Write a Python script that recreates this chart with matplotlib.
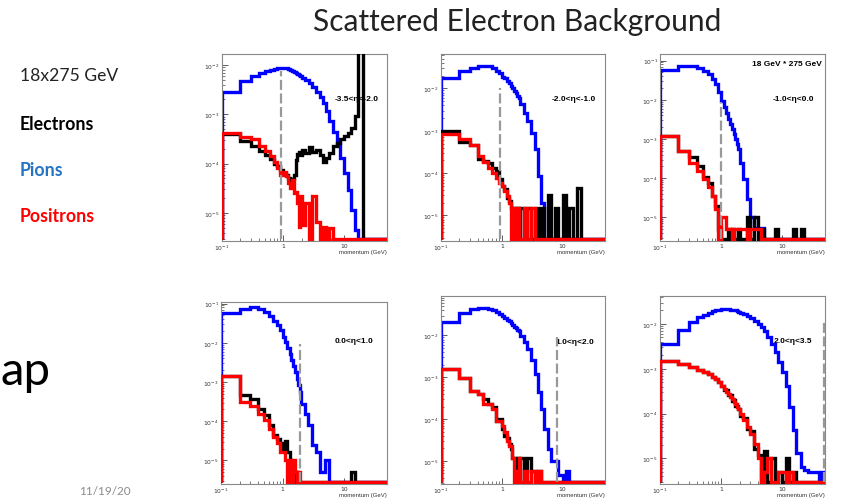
import numpy as np
import matplotlib
matplotlib.use("Agg")
import matplotlib.pyplot as plt
from matplotlib.ticker import LogLocator, FixedLocator, FixedFormatter, NullFormatter

# ---------------- data ----------------
# bin edges in momentum (GeV)
edges = [0.1, 0.2, 0.3, 0.4, 0.5, 0.6, 0.7, 0.8, 0.9, 1.0, 1.1, 1.2, 1.3, 1.4, 1.5, 1.6, 1.7, 1.8, 1.9, 2.0,
         2.3, 2.6, 3.0, 3.5, 4.0, 4.5, 5.0, 5.7, 6.5, 7.5, 8.5, 10, 11.5, 13, 15, 17, 20, 23, 26, 30, 35, 40, 45, 50]

eta_labels = ["-3.5<\u03b7<-2.0", "-2.0<\u03b7<-1.0", "-1.0<\u03b7<0.0",
              "0.0<\u03b7<1.0", "1.0<\u03b7<2.0", "2.0<\u03b7<3.5"]

# panel 1
p1_pions = [2.9e-3, 4.8e-3, 5.9e-3, 6.8e-3, 7.4e-3, 7.9e-3, 8.3e-3, 8.5e-3, 8.7e-3, 8.7e-3, 8.5e-3, 8.3e-3, 8.0e-3, 7.7e-3, 7.3e-3, 7.0e-3, 6.7e-3, 6.4e-3, 6.1e-3,
            5.5e-3, 4.9e-3, 4.3e-3, 3.6e-3, 2.9e-3, 2.2e-3, 1.7e-3, 1.17e-3, 7.3e-4, 4.4e-4, 2.6e-4, 1.3e-4, 6.5e-5, 2.9e-5, 1.15e-5, 4.5e-6, 0, 0, 0, 0, 0, 0, 0, 0]
p1_electrons = [4.0e-4, 2.9e-4, 2.3e-4, 1.8e-4, 1.5e-4, 1.25e-4, 1.0e-4, 8.9e-5, 7.3e-5, 6.5e-5, 6.0e-5, 5.1e-5, 4.7e-5, 4.8e-5, 6.0e-5, 1.2e-4, 1.6e-4, 1.7e-4, 1.5e-4,
                1.9e-4, 1.65e-4, 2.2e-4, 1.7e-4, 1.9e-4, 1.5e-4, 1.07e-4, 1.3e-4, 1.65e-4, 2.3e-4, 2.6e-4, 3.1e-4, 3.6e-4, 4.1e-4, 5.3e-4, 9.3e-4, 5.0e-2, 0, 0, 0, 0, 0, 0, 0]
p1_positrons = [4.1e-4, 3.5e-4, 3.1e-4, 2.3e-4, 1.8e-4, 1.4e-4, 1.07e-4, 8.2e-5, 6.0e-5, 6.9e-5, 5.5e-5, 4.0e-5, 3.2e-5, 4.7e-5, 2.5e-5, 2.7e-5, 1.6e-5, 5.2e-6, 2.2e-5,
                5.8e-6, 1.6e-5, 0, 2.2e-5, 6.6e-6, 0, 5.2e-6, 0, 4.9e-6, 0, 0, 0, 0, 0, 0, 0, 0, 0, 0, 0, 0, 0, 0, 0]

# panel 2
p2_pions = [1.73e-2, 2.6e-2, 3.1e-2, 3.4e-2, 3.4e-2, 3.3e-2, 3.0e-2, 2.6e-2, 2.3e-2, 1.9e-2, 1.73e-2, 1.5e-2, 1.34e-2, 1.16e-2, 1.0e-2, 8.8e-3, 7.8e-3, 6.7e-3, 5.8e-3,
            4.3e-3, 2.7e-3, 1.7e-3, 9.1e-4, 3.7e-4, 8.5e-5, 2.0e-5, 0, 0, 0, 0, 0, 0, 0, 0, 0, 0, 0, 0, 0, 0, 0, 0, 0]
p2_electrons = [1.0e-3, 5.3e-4, 4.6e-4, 2.2e-4, 1.9e-4, 1.7e-4, 1.35e-4, 1.1e-4, 7.1e-5, 5.0e-5, 4.2e-5, 2.6e-5, 2.2e-5, 1.5e-5, 0, 1.5e-5, 0, 1.5e-5, 0,
                1.5e-5, 0, 1.5e-5, 0, 1.5e-5, 0, 1.5e-5, 0, 3.0e-5, 0, 1.5e-5, 0, 3.0e-5, 0, 1.5e-5, 0, 4.5e-5, 0, 0, 0, 0, 0, 0, 0]
p2_positrons = [8.6e-4, 6.3e-4, 4.6e-4, 2.6e-4, 1.8e-4, 1.35e-4, 1.0e-4, 7.8e-5, 5.9e-5, 5.0e-5, 3.8e-5, 2.9e-5, 2.0e-5, 0, 1.5e-5, 0, 1.5e-5, 1.5e-5, 0,
                0, 1.5e-5, 0, 1.5e-5, 0, 0, 0, 0, 0, 0, 0, 0, 0, 0, 0, 0, 0, 0, 0, 0, 0, 0, 0, 0]

# panel 3
p3_pions = [5.9e-2, 7.4e-2, 7.4e-2, 6.6e-2, 5.6e-2, 4.6e-2, 3.5e-2, 2.5e-2, 1.55e-2, 9.5e-3, 6.5e-3, 4.6e-3, 3.2e-3, 2.4e-3, 1.8e-3, 1.34e-3, 1.0e-3, 7.4e-4, 5.6e-4,
            2.5e-4, 9.5e-5, 3.0e-5, 1.0e-5, 5.5e-6, 5.5e-6, 5.5e-6, 0, 0, 0, 0, 0, 0, 0, 0, 0, 0, 0, 0, 0, 0, 0, 0, 0]
p3_electrons = [1.2e-3, 5.0e-4, 3.4e-4, 2.1e-4, 1.1e-4, 7.7e-5, 3.6e-5, 2.0e-5, 5e-6, 0, 0, 0, 5e-6, 0, 5e-6, 0, 0, 0, 5e-6,
                0, 0, 1.0e-5, 0, 1.0e-5, 0, 5e-6, 0, 0, 0, 5e-6, 0, 0, 0, 0, 5e-6, 0, 5e-6, 0, 0, 0, 0, 0, 0]
p3_positrons = [1.2e-3, 5.0e-4, 2.5e-4, 1.55e-4, 9.5e-5, 5.9e-5, 3.6e-5, 1.6e-5, 0, 1.0e-5, 1.0e-5, 5e-6, 5e-6, 5e-6, 0, 5e-6, 5e-6, 5e-6, 5e-6,
                5e-6, 5e-6, 0, 5e-6, 5e-6, 5e-6, 0, 0, 0, 0, 0, 0, 0, 0, 0, 0, 0, 0, 0, 0, 0, 0, 0, 0]

# panel 4
p4_pions = [5.9e-2, 7.4e-2, 8.1e-2, 7.2e-2, 6.2e-2, 4.8e-2, 3.7e-2, 2.8e-2, 2.1e-2, 1.4e-2, 1.05e-2, 7.4e-3, 5.3e-3, 3.6e-3, 2.6e-3, 1.8e-3, 1.2e-3, 8.2e-4, 5.6e-4,
            2.8e-4, 1.56e-4, 7.8e-5, 2.4e-5, 1.6e-5, 5.0e-6, 5.0e-6, 1.0e-5, 0, 0, 0, 0, 0, 0, 0, 0, 0, 0, 0, 0, 0, 0, 0, 0]
p4_electrons = [1.4e-3, 4.6e-4, 3.7e-4, 2.1e-4, 1.4e-4, 7.8e-5, 4.4e-5, 3.6e-5, 2.7e-5, 2.0e-5, 3.2e-5, 1.6e-5, 1.0e-5, 0, 5e-6, 0, 5e-6, 0, 0,
                0, 0, 0, 0, 0, 0, 0, 0, 0, 0, 0, 0, 0, 0, 5e-6, 0, 0, 0, 0, 0, 0, 0, 0, 0]
p4_positrons = [1.4e-3, 3.1e-4, 2.5e-4, 1.56e-4, 1.05e-4, 6.4e-5, 4.0e-5, 2.7e-5, 1.6e-5, 1.6e-5, 1.0e-5, 0, 1.0e-5, 0, 1.0e-5, 5.0e-6, 0, 5.0e-6, 0,
                0, 0, 0, 0, 0, 0, 0, 0, 0, 0, 0, 0, 0, 0, 0, 0, 0, 0, 0, 0, 0, 0, 0, 0]

# panel 5
p5_pions = [2.1e-2, 3.5e-2, 4.2e-2, 4.6e-2, 4.6e-2, 4.4e-2, 4.0e-2, 3.6e-2, 3.2e-2, 2.9e-2, 2.6e-2, 2.4e-2, 2.2e-2, 2.0e-2, 1.8e-2, 1.64e-2, 1.5e-2, 1.37e-2, 1.25e-2,
            9.5e-3, 6.9e-3, 4.8e-3, 2.6e-3, 1.2e-3, 4.4e-4, 1.74e-4, 5.8e-5, 1.9e-5, 1.0e-5, 1.0e-5, 4.6e-6, 0, 5.8e-6, 0, 0, 0, 0, 0, 0, 0, 0, 0, 0]
p5_electrons = [1.6e-3, 9.5e-4, 4.8e-4, 4.0e-4, 3.0e-4, 2.3e-4, 1.9e-4, 9.1e-5, 1.0e-4, 5.8e-5, 4.0e-5, 3.6e-5, 2.5e-5, 1.9e-5, 1.2e-5, 1.2e-5, 0, 1.2e-5, 0,
                1.2e-5, 0, 1.2e-5, 5.8e-6, 0, 5.8e-6, 0, 0, 0, 0, 0, 0, 0, 0, 0, 0, 0, 0, 0, 0, 0, 0, 0, 0]
p5_positrons = [1.6e-3, 9.5e-4, 4.8e-4, 4.0e-4, 2.3e-4, 2.3e-4, 1.74e-4, 9.1e-5, 9.1e-5, 6.9e-5, 4.8e-5, 3.0e-5, 2.3e-5, 2.3e-5, 1.2e-5, 0, 5.8e-6, 0, 1.2e-5,
                0, 5.8e-6, 0, 5.8e-6, 0, 5.8e-6, 0, 0, 0, 0, 0, 0, 0, 0, 0, 0, 0, 0, 0, 0, 0, 0, 0, 0]

# panel 6
p6_pions = [3.5e-3, 7.4e-3, 1.13e-2, 1.4e-2, 1.6e-2, 1.77e-2, 1.9e-2, 2.0e-2, 2.1e-2, 2.15e-2, 2.2e-2, 2.2e-2, 2.15e-2, 2.1e-2, 2.1e-2, 2.0e-2, 2.0e-2, 1.9e-2, 1.85e-2,
            1.8e-2, 1.7e-2, 1.5e-2, 1.34e-2, 1.17e-2, 1.0e-2, 8.6e-3, 7.0e-3, 5.0e-3, 3.6e-3, 2.4e-3, 1.4e-3, 8.5e-4, 4.1e-4, 1.44e-4, 4.3e-5, 1.3e-5, 6.3e-6, 5.4e-6, 5.0e-6, 5.0e-6, 5.0e-6, 0, 5.0e-6]
p6_electrons = [1.5e-3, 1.3e-3, 1.1e-3, 9.6e-4, 8.3e-4, 7.5e-4, 6.6e-4, 5.8e-4, 5.0e-4, 4.1e-4, 3.3e-4, 3.3e-4, 2.6e-4, 2.6e-4, 1.9e-4, 2.0e-4, 1.5e-4, 1.5e-4, 1.3e-4,
                9.0e-5, 8.0e-5, 4.5e-5, 4.0e-5, 1.6e-5, 1.2e-5, 0, 1.5e-5, 0, 1.0e-5, 0, 5e-6, 0, 1.0e-5, 0, 5e-6, 0, 0, 0, 0, 0, 0, 0, 0]
p6_positrons = [1.5e-3, 1.3e-3, 1.1e-3, 9.6e-4, 8.3e-4, 7.5e-4, 6.6e-4, 5.8e-4, 5.0e-4, 4.1e-4, 3.5e-4, 3.1e-4, 2.7e-4, 2.4e-4, 2.1e-4, 1.8e-4, 1.6e-4, 1.44e-4, 1.25e-4,
                1.0e-4, 7.2e-5, 5.1e-5, 3.6e-5, 2.1e-5, 1.0e-5, 0, 5e-6, 1.0e-5, 0, 0, 5e-6, 5e-6, 0, 5e-6, 0, 0, 0, 0, 0, 0, 0, 0, 0]

# vertical dashed cut lines (momentum, upper end)
cut_momentum = [0.93, 0.95, 1.0, 1.95, 8.0, 49.0]
cut_top = [7.5e-3, 1.05e-2, 8.7e-3, 9.5e-3, 9.1e-3, 1.1e-2]

# y ranges
y_low = [2.7e-6, 2.5e-6, 2.5e-6, 2.5e-6, 2.8e-6, 2.7e-6]
y_high = [1.67e-2, 6.5e-2, 0.148, 0.11, 8.8e-2, 4.2e-2]

pions = [p1_pions, p2_pions, p3_pions, p4_pions, p5_pions, p6_pions]
electrons = [p1_electrons, p2_electrons, p3_electrons, p4_electrons, p5_electrons, p6_electrons]
positrons = [p1_positrons, p2_positrons, p3_positrons, p4_positrons, p5_positrons, p6_positrons]

# ---------------- layout ----------------
W, H = 843, 502
fig = plt.figure(figsize=(W / 100, H / 100), dpi=100)
fig.patch.set_facecolor("white")

boxes = [(222, 387, 55, 242), (441, 605, 55, 242), (660, 825, 55, 242),
         (221, 387, 303, 485), (441, 605, 297, 485), (660, 825, 297, 485)]
label_pos = [(0.685, 0.76), (0.675, 0.76), (0.68, 0.76), (0.687, 0.79), (0.695, 0.76), (0.69, 0.763)]

root_font = ["Liberation Sans", "DejaVu Sans"]
slide_font = ["Lato", "DejaVu Sans"]

for i in range(6):
    l, r, t, b = boxes[i]
    ax = fig.add_axes([l / W, 1 - b / H, (r - l) / W, (b - t) / H])
    ax.set_xscale("log")
    ax.set_yscale("log")
    ymin, ymax = y_low[i], y_high[i]
    ax.set_xlim(0.1, 50)
    ax.set_ylim(ymin, ymax)
    floor = ymin * 1.1
    for vals, col, z in [(pions[i], "#0000ff", 2), (electrons[i], "black", 3), (positrons[i], "#ff0000", 4)]:
        v = np.maximum(np.asarray(vals, dtype=float), floor)
        ax.stairs(v, edges, baseline=floor, color=col, lw=2.4, zorder=z)
    ax.plot([cut_momentum[i], cut_momentum[i]], [floor, cut_top[i]], color="#999999",
            lw=1.6, ls=(0, (4.5, 1.6)), zorder=5)

    ax.xaxis.set_major_locator(FixedLocator([0.1, 1, 10]))
    ax.xaxis.set_major_formatter(FixedFormatter(["$10^{-1}$", "1", "10"]))
    ax.xaxis.set_minor_locator(LogLocator(base=10, subs=np.arange(2, 10), numticks=20))
    ax.xaxis.set_minor_formatter(NullFormatter())
    ax.yaxis.set_major_locator(LogLocator(base=10, numticks=20))
    ax.yaxis.set_minor_locator(LogLocator(base=10, subs=np.arange(2, 10), numticks=20))
    ax.yaxis.set_minor_formatter(NullFormatter())
    ax.tick_params(which="both", direction="in", top=False, right=False, labelsize=4.3,
                   pad=1.5, colors="#444444", labelcolor="#333333")
    ax.tick_params(which="major", length=4, width=0.6)
    ax.tick_params(which="minor", length=2, width=0.5)
    for s in ax.spines.values():
        s.set_color("#888888")
        s.set_linewidth(0.8)

    ax.text(label_pos[i][0], label_pos[i][1], eta_labels[i], transform=ax.transAxes,
            ha="left", va="center", fontsize=6, fontweight="bold", family=root_font, zorder=1)
    ax.text(1.0, -0.045, "momentum (GeV)", transform=ax.transAxes, ha="right", va="top",
            fontsize=4.3, color="#333333", family=root_font)
    if i == 2:
        ax.text(0.98, 0.95, "18 GeV * 275 GeV", transform=ax.transAxes, ha="right", va="center",
                fontsize=6, fontweight="bold", family=root_font)

# ---------------- slide text ----------------
fig.text(517 / W, 1 - 22 / H, "Scattered Electron Background", ha="center", va="center",
         fontsize=21.5, fontweight="normal", color="#222222", family=slide_font)
fig.text(20 / W, 1 - 76 / H, "18x275 GeV", ha="left", va="center", fontsize=12.6,
         color="#222222", family=slide_font)
fig.text(20 / W, 1 - 124 / H, "Electrons", ha="left", va="center", fontsize=12.8,
         fontweight="bold", color="black", family=slide_font)
fig.text(20 / W, 1 - 171 / H, "Pions", ha="left", va="center", fontsize=12.8,
         fontweight="bold", color="#2474C4", family=slide_font)
fig.text(20 / W, 1 - 217 / H, "Positrons", ha="left", va="center", fontsize=12.8,
         fontweight="bold", color="#ff0000", family=slide_font)
fig.text(0.0, 1 - 372 / H, "ap", ha="left", va="center", fontsize=34,
         color="black", family=slide_font)
fig.text(105 / W, 1 - 492 / H, "11/19/20", ha="center", va="center", fontsize=8.5,
         color="#8c8c8c", family=slide_font)

fig.savefig("out.png", dpi=100)
